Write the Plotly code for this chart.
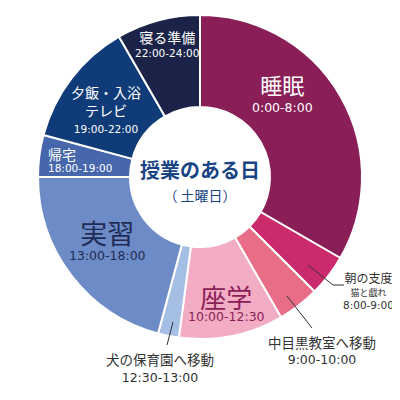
import plotly.graph_objects as go

# 1日のスケジュール（時間）
activities = ['睡眠', '朝の支度', '中目黒教室へ移動', '座学', '犬の保育園へ移動',
              '実習', '帰宅', '夕飯・入浴', '寝る準備']
notes = ['', '猫と戯れ', '', '', '', '', '', 'テレビ', '']
hours = [8, 1, 1, 2.5, 0.5, 5, 1, 3, 2]
time_ranges = ['0:00-8:00', '8:00-9:00', '9:00-10:00', '10:00-12:30', '12:30-13:00',
               '13:00-18:00', '18:00-19:00', '19:00-22:00', '22:00-24:00']
colors = ['#8A1E57', '#CB2A6C', '#E86E88', '#F2ADC5', '#A5BEE3',
          '#6D8CC7', '#4767AC', '#0F3C78', '#1B2448']

JP = 'Noto Sans CJK JP'
NUM = 'DejaVu Sans'
W = H = 400
OFF = 8  # page margin of the browser


def px(x, y):
    """screen pixel -> paper coords"""
    return (x - OFF) / W, 1 - (y - OFF) / H


d0, d1 = px(38, 15), px(362, 339)
fig = go.Figure(go.Pie(
    labels=activities, values=hours, sort=False, direction='clockwise', rotation=0,
    hole=0.432, textinfo='none', hoverinfo='label+value',
    marker=dict(colors=colors, line=dict(color='white', width=2)),
    domain=dict(x=[d0[0], d1[0]], y=[d1[1], d0[1]]),
))

annotations = []


def span(text, size, family=JP):
    return f'<span style="font-size:{size}px;font-family:{family}">{text}</span>'


def label(lines, x, y, base, color, anchor='center'):
    ax, ay = px(x, y)
    annotations.append(dict(text='<br>'.join(lines), x=ax, y=ay, xref='paper', yref='paper',
                            showarrow=False, xanchor=anchor, yanchor='middle', align=anchor,
                            font=dict(family=JP, size=base, color=color)))


# 中央
label([span('<b>授業のある日</b>', 20), span('（ 土曜日）', 14)], 200, 180, 17.5, '#1A4585')

# 内側ラベル
label([span(activities[0], 22), span(time_ranges[0], 12.5, NUM)], 282, 91, 14, 'white')
label([span(activities[8], 14), span(time_ranges[8], 10.5, NUM)], 167, 43, 10.5, 'white')
label([span(activities[7], 14), span(notes[7], 14), span(time_ranges[7], 10.5, NUM)],
      106, 109, 13.5, 'white')
label([span(activities[6], 14), span(time_ranges[6], 10.5, NUM)], 46, 159, 9, 'white', 'left')
label([span(activities[5], 27), span(time_ranges[5], 12.5, NUM)], 107, 238, 12.5, '#1E2B55')
label([span(activities[3], 26), span(time_ranges[3], 12.5, NUM)], 226, 300.5, 10, '#8A1E57')

# 外側ラベル
label([span(activities[1], 12), span(notes[1], 9), span(time_ranges[1], 10.5, NUM)],
      368, 290, 10, '#333333')
label([span(activities[2], 13.5), span(time_ranges[2], 12.5, NUM)], 322, 349, 12.5, '#333333')
label([span(activities[4], 13.5), span(time_ranges[4], 12.5, NUM)], 160, 367, 13, '#333333')

# 引き出し線
leaders = [
    [(308, 265), (333, 285), (344, 285)],
    [(287, 296), (312, 328)],
    [(173, 322), (167, 345)],
]
shapes = []
for pts in leaders:
    for (x0, y0), (x1, y1) in zip(pts[:-1], pts[1:]):
        p0, p1 = px(x0, y0), px(x1, y1)
        shapes.append(dict(type='line', xref='paper', yref='paper',
                           x0=p0[0], y0=p0[1], x1=p1[0], y1=p1[1],
                           line=dict(color='#333333', width=1)))

fig.update_layout(
    width=W, height=H, margin=dict(l=0, r=0, t=0, b=0),
    showlegend=False, paper_bgcolor='white',
    annotations=annotations, shapes=shapes,
    font=dict(family=JP),
)

fig.write_html('out.html')
